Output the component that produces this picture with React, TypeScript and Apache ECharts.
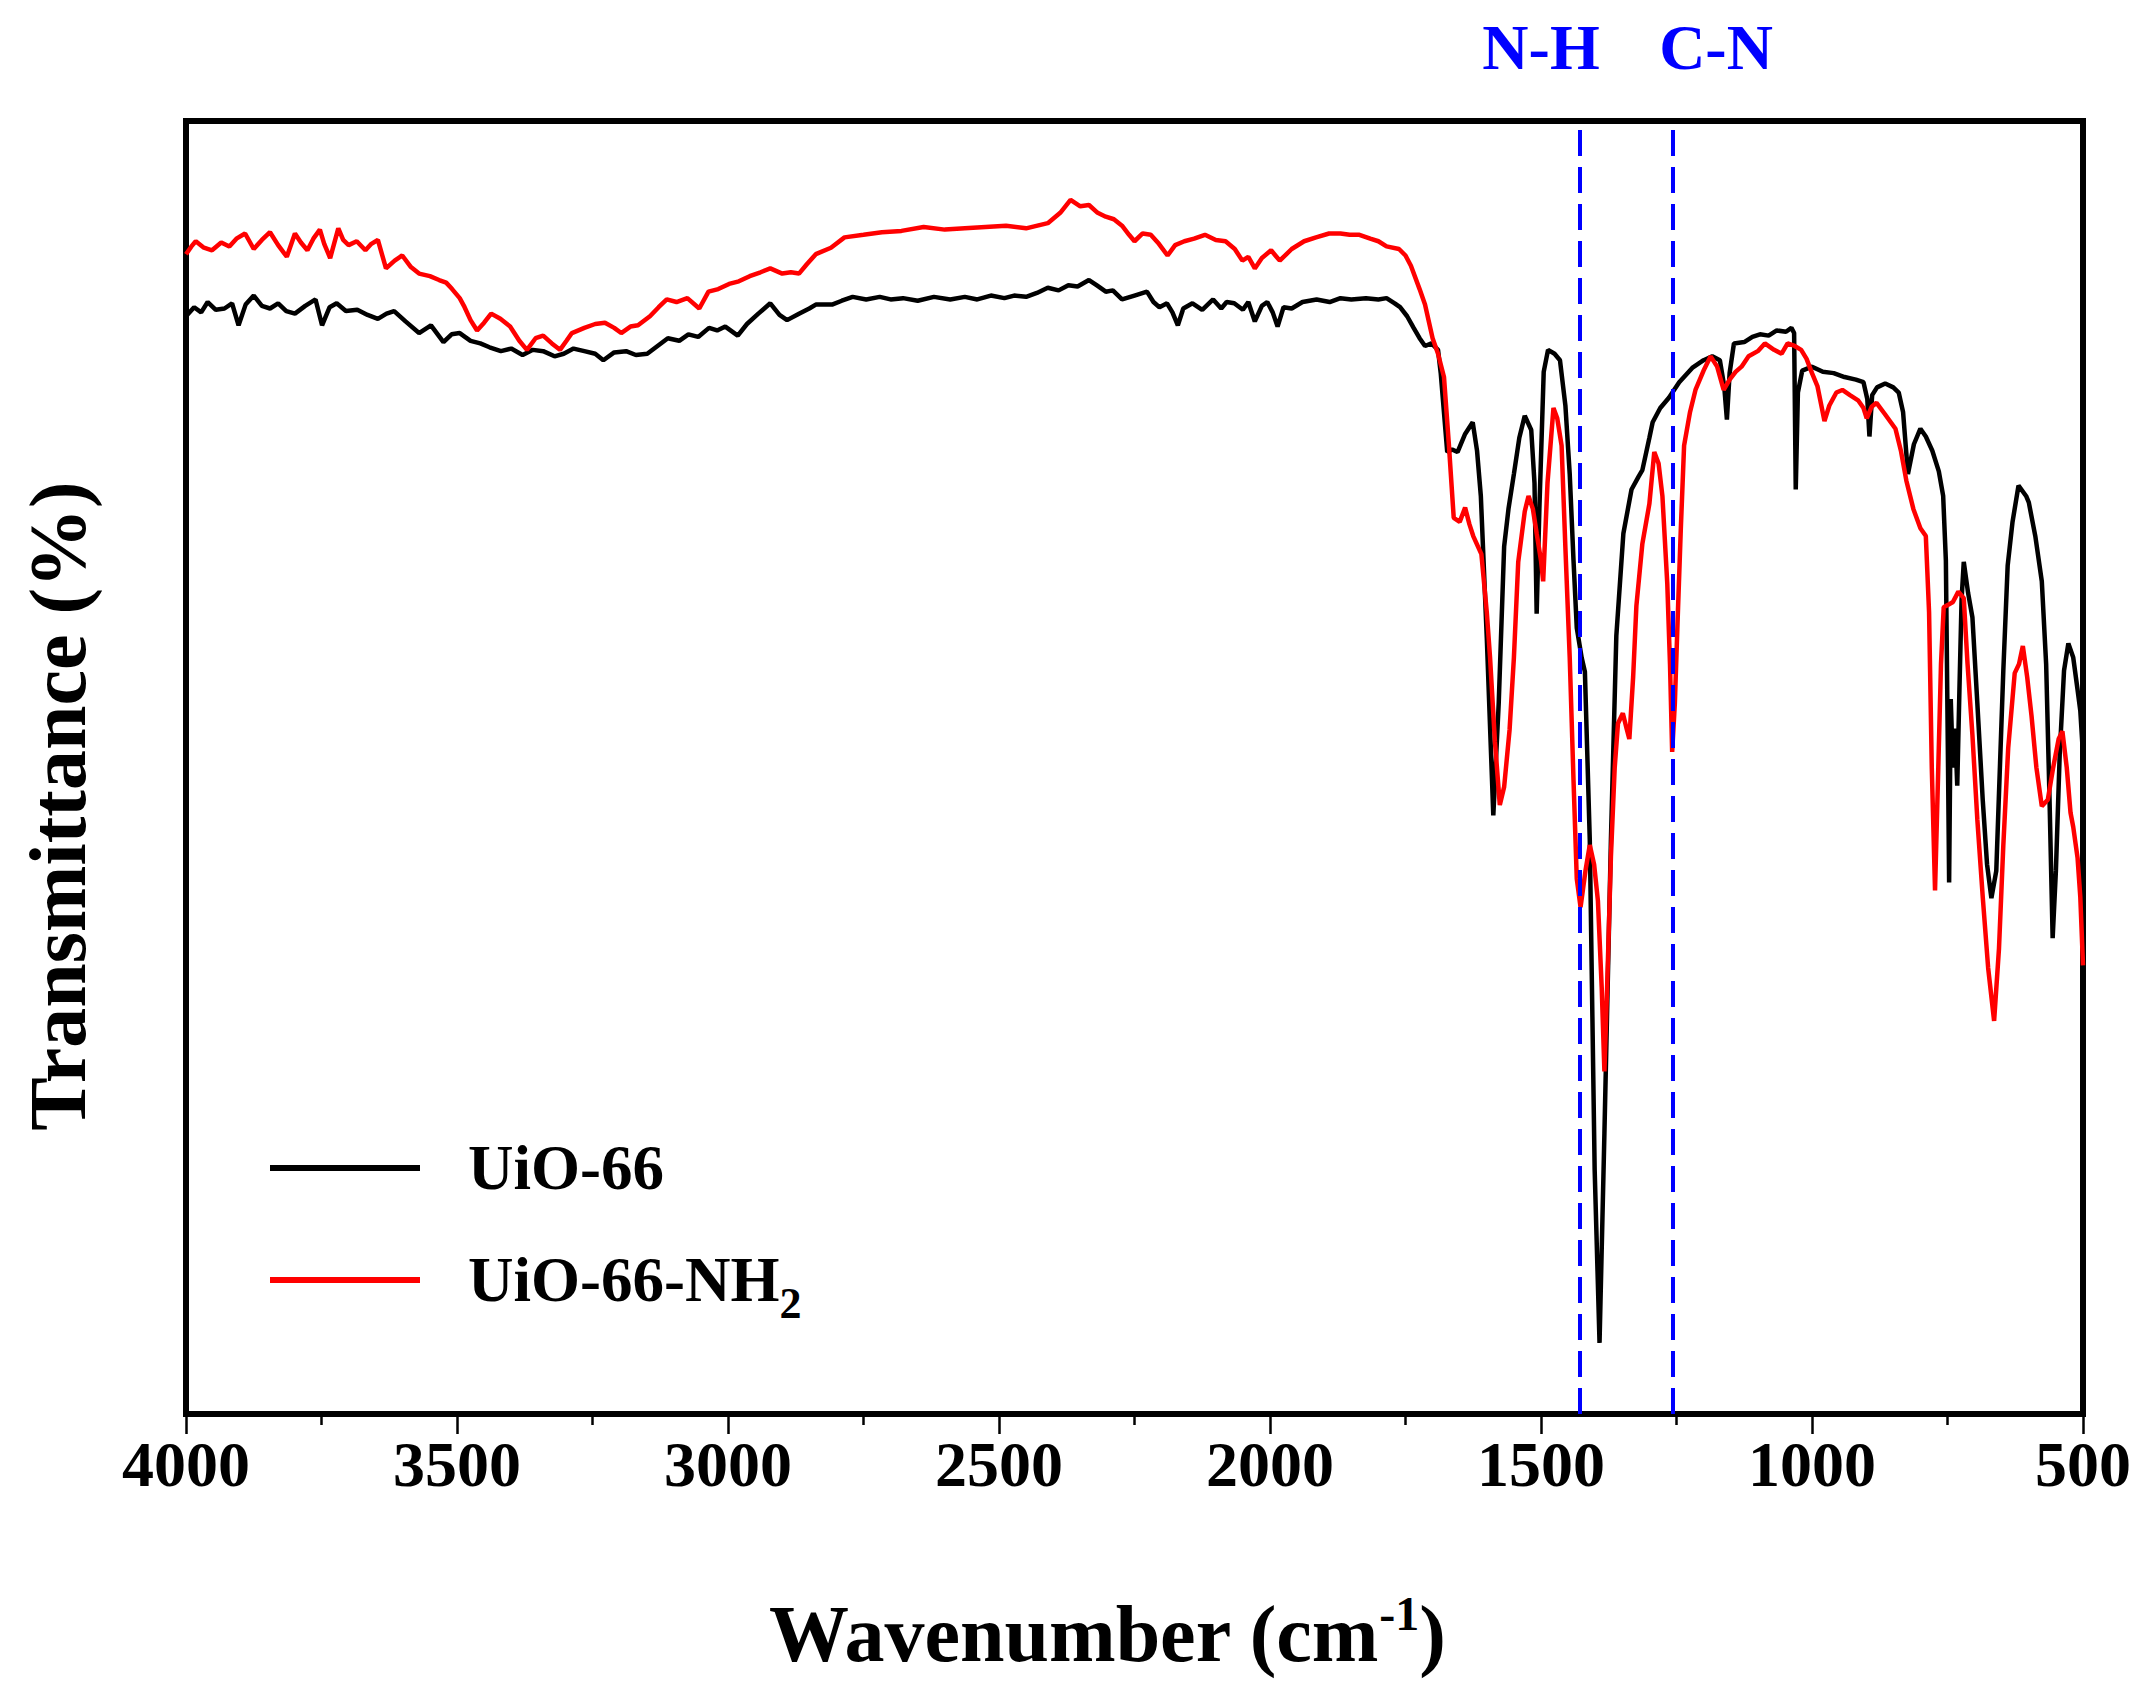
import React, { useEffect, useRef } from "react";
import * as echarts from "echarts";

// Wavenumber (cm-1) vs transmittance (arbitrary %, 0 = bottom of frame, 100 = top)
const uio66: [number, number][] = [
  [4000,84.9],[3985,85.6],[3972,85.2],[3960,86.0],[3945,85.4],[3929,85.5],[3915,85.9],[3903,84.2],[3890,85.8],[3875,86.5],
  [3860,85.7],[3845,85.5],[3830,85.9],[3815,85.3],[3799,85.1],[3780,85.7],[3761,86.2],[3749,84.2],[3735,85.6],[3722,85.9],
  [3705,85.3],[3684,85.4],[3665,85.0],[3646,84.7],[3630,85.1],[3616,85.3],[3595,84.5],[3570,83.6],[3548,84.2],[3525,82.9],
  [3510,83.5],[3495,83.6],[3475,83.0],[3457,82.8],[3440,82.5],[3419,82.2],[3400,82.4],[3379,81.9],[3360,82.3],[3341,82.2],
  [3320,81.8],[3303,82.0],[3285,82.4],[3265,82.2],[3245,82.0],[3230,81.5],[3210,82.1],[3188,82.2],[3170,81.9],[3149,82.0],
  [3130,82.6],[3111,83.2],[3090,83.0],[3073,83.5],[3055,83.3],[3035,84.0],[3020,83.8],[3005,84.1],[2982,83.4],[2965,84.3],
  [2944,85.1],[2922,85.9],[2905,85.0],[2891,84.6],[2869,85.1],[2850,85.5],[2838,85.8],[2808,85.8],[2790,86.1],[2770,86.4],
  [2745,86.2],[2720,86.4],[2700,86.2],[2677,86.3],[2650,86.1],[2620,86.4],[2590,86.2],[2563,86.4],[2540,86.2],[2515,86.5],
  [2490,86.3],[2472,86.5],[2450,86.4],[2430,86.7],[2410,87.1],[2390,86.9],[2372,87.3],[2355,87.2],[2334,87.7],[2320,87.3],
  [2303,86.8],[2290,86.9],[2273,86.2],[2250,86.5],[2227,86.8],[2215,86.0],[2204,85.6],[2190,85.9],[2180,85.2],[2170,84.2],
  [2160,85.5],[2143,85.9],[2125,85.4],[2105,86.2],[2090,85.5],[2080,86.0],[2066,85.9],[2050,85.4],[2040,86.0],[2028,84.5],
  [2015,85.7],[2005,86.0],[1995,85.2],[1986,84.1],[1975,85.6],[1960,85.5],[1940,86.0],[1914,86.2],[1890,86.0],[1870,86.3],
  [1850,86.2],[1823,86.3],[1800,86.2],[1785,86.3],[1770,85.9],[1760,85.6],[1747,84.9],[1735,84.0],[1724,83.2],[1714,82.6],
  [1702,82.8],[1690,82.3],[1685,80.5],[1673,74.4],[1664,74.6],[1654,74.4],[1640,75.8],[1626,76.7],[1618,74.5],[1611,71.0],
  [1600,60.0],[1588,46.3],[1578,55.0],[1568,67.1],[1560,70.0],[1550,72.7],[1540,75.5],[1530,77.2],[1518,76.1],[1512,72.0],
  [1508,61.9],[1503,70.0],[1495,80.6],[1487,82.3],[1475,82.0],[1465,81.5],[1455,78.0],[1447,72.7],[1440,66.0],[1434,60.8],
  [1425,58.5],[1419,57.4],[1410,44.4],[1401,18.9],[1392,5.5],[1383,21.7],[1371,44.4],[1361,60.2],[1348,68.1],[1333,71.5],
  [1320,72.5],[1313,73.0],[1300,75.5],[1294,76.7],[1280,77.8],[1264,78.6],[1245,79.8],[1221,80.9],[1200,81.5],[1184,81.8],
  [1170,81.5],[1162,79.5],[1157,76.9],[1152,80.5],[1144,82.8],[1125,82.9],[1110,83.3],[1096,83.5],[1080,83.4],[1065,83.8],
  [1048,83.7],[1038,84.0],[1033,83.6],[1030,71.5],[1026,79.0],[1018,80.7],[1000,81.0],[980,80.6],[960,80.5],[940,80.2],
  [919,80.0],[905,79.8],[898,78.5],[894,75.6],[889,78.8],[880,79.4],[865,79.7],[850,79.4],[840,79.0],[832,77.5],
  [823,72.7],[812,75.0],[800,76.2],[790,75.6],[778,74.5],[766,72.9],[758,71.0],[753,66.0],[749,50.0],[747,41.1],
  [744,55.3],[740,50.0],[736,53.0],[732,48.6],[728,56.0],[724,63.0],[720,65.9],[712,63.5],[704,61.6],[695,55.0],
  [685,47.5],[677,42.5],[669,39.9],[660,42.0],[655,48.0],[647,57.5],[639,65.6],[630,69.0],[619,71.8],[605,71.0],
  [600,70.5],[588,67.9],[576,64.4],[568,58.0],[562,48.0],[556,36.8],[550,42.0],[543,51.0],[535,57.5],[527,59.6],
  [518,58.5],[510,56.0],[505,54.4],[500,51.0]
];

const uio66NH2: [number, number][] = [
  [4000,89.7],[3990,90.3],[3982,90.7],[3967,90.2],[3952,90.0],[3935,90.6],[3920,90.3],[3907,90.9],[3891,91.3],[3875,90.1],
  [3860,90.8],[3845,91.4],[3830,90.4],[3814,89.5],[3799,91.3],[3788,90.6],[3776,90.0],[3765,90.9],[3753,91.6],[3745,90.5],
  [3734,89.4],[3719,91.7],[3710,90.8],[3700,90.4],[3685,90.7],[3669,90.0],[3658,90.5],[3646,90.8],[3631,88.6],[3615,89.2],
  [3601,89.6],[3585,88.7],[3570,88.2],[3550,88.0],[3533,87.7],[3520,87.5],[3509,87.0],[3495,86.3],[3486,85.6],[3475,84.6],
  [3463,83.8],[3450,84.4],[3437,85.1],[3420,84.7],[3402,84.1],[3385,83.0],[3371,82.3],[3355,83.2],[3341,83.4],[3325,82.8],
  [3310,82.3],[3298,83.0],[3288,83.6],[3265,84.0],[3245,84.3],[3227,84.4],[3210,84.0],[3197,83.6],[3180,84.1],[3166,84.2],
  [3144,84.9],[3128,85.6],[3113,86.2],[3095,86.0],[3075,86.3],[3053,85.5],[3036,86.8],[3018,87.0],[2998,87.4],[2980,87.6],
  [2960,88.0],[2940,88.3],[2922,88.6],[2900,88.2],[2884,88.3],[2869,88.2],[2855,88.9],[2838,89.7],[2810,90.2],[2785,91.0],
  [2750,91.2],[2716,91.4],[2680,91.5],[2639,91.8],[2600,91.6],[2563,91.7],[2525,91.8],[2487,91.9],[2450,91.7],[2410,92.1],
  [2387,92.9],[2368,93.9],[2350,93.4],[2334,93.5],[2318,92.9],[2303,92.6],[2288,92.4],[2273,91.9],[2260,91.2],[2250,90.7],
  [2235,91.3],[2220,91.2],[2205,90.5],[2189,89.6],[2175,90.4],[2158,90.7],[2140,90.9],[2120,91.2],[2100,90.8],[2082,90.7],
  [2065,90.1],[2051,89.2],[2040,89.5],[2028,88.6],[2015,89.4],[1998,90.0],[1990,89.6],[1982,89.2],[1960,90.1],[1937,90.7],
  [1915,91.0],[1891,91.3],[1870,91.3],[1853,91.2],[1835,91.2],[1815,90.9],[1800,90.7],[1785,90.3],[1762,90.1],[1750,89.6],
  [1740,88.8],[1724,87.0],[1714,85.8],[1700,83.2],[1690,82.0],[1679,80.2],[1670,75.0],[1661,69.3],[1650,69.0],[1640,70.1],
  [1632,68.8],[1625,67.9],[1610,66.5],[1600,62.0],[1594,58.5],[1585,52.0],[1576,47.1],[1568,48.5],[1558,52.9],[1550,58.5],
  [1542,65.9],[1530,69.8],[1523,71.0],[1515,70.0],[1508,68.1],[1500,66.0],[1496,64.4],[1488,72.0],[1477,77.8],[1470,77.0],
  [1462,74.9],[1455,67.0],[1447,58.5],[1440,49.0],[1434,41.4],[1427,39.2],[1418,42.0],[1410,44.0],[1402,42.5],[1395,39.7],
  [1388,33.0],[1383,26.5],[1378,33.0],[1371,43.1],[1364,50.0],[1358,53.4],[1349,54.2],[1342,53.0],[1337,52.2],[1330,57.0],
  [1324,62.5],[1313,67.3],[1300,70.4],[1291,74.4],[1283,73.5],[1276,71.0],[1267,64.2],[1262,58.0],[1258,51.2],[1253,55.0],
  [1248,61.3],[1242,68.5],[1236,74.9],[1225,77.5],[1215,79.2],[1200,80.7],[1187,81.8],[1175,81.0],[1163,79.2],[1152,80.0],
  [1141,80.6],[1130,81.0],[1117,81.8],[1100,82.2],[1087,82.8],[1070,82.3],[1056,82.0],[1045,82.8],[1032,82.6],[1020,82.3],
  [1010,81.6],[1000,80.5],[990,79.5],[977,76.8],[968,78.0],[955,79.0],[944,79.2],[930,78.8],[915,78.4],[905,77.8],
  [899,77.0],[890,77.9],[881,78.2],[865,77.3],[846,76.2],[836,74.5],[826,72.2],[813,70.0],[800,68.5],[790,67.9],
  [784,62.0],[779,50.0],[773,40.5],[767,50.0],[762,58.0],[757,62.4],[748,62.6],[740,62.8],[730,63.6],[720,63.1],
  [713,58.0],[704,52.5],[695,46.0],[685,40.0],[675,34.5],[664,30.4],[655,36.0],[647,44.0],[638,51.5],[626,57.3],
  [618,58.0],[611,59.4],[603,57.0],[595,54.0],[586,50.0],[576,47.0],[565,47.5],[555,50.0],[545,52.2],[538,52.8],
  [530,50.0],[523,46.5],[518,45.4],[510,43.0],[505,40.0],[500,34.7]
];

const seriesNames = ["UiO-66", "UiO-66-NH2"];
const bandPositions = [1428, 1257]; // cm-1, dashed guide lines
const bandLabels = ["N-H", "C-N"];
const xTickMin = 500;
const xTickMax = 4000;
const xTickInterval = 500;

const FONT = "Liberation Serif";

export default function App() {
  const ref = useRef<HTMLDivElement>(null);

  useEffect(() => {
    document.body.style.margin = "0";
    if (!ref.current) return;
    const chart = echarts.init(ref.current, undefined, { renderer: "svg" });

    const option: any = {
      animation: false,
      backgroundColor: "#ffffff",
      grid: {
        left: 186,
        top: 121,
        width: 1897,
        height: 1293,
        show: true,
        borderColor: "#000",
        borderWidth: 6,
        backgroundColor: "transparent",
      },
      xAxis: {
        type: "value",
        min: xTickMin,
        max: xTickMax,
        interval: xTickInterval,
        inverse: true,
        axisLine: { show: false },
        axisTick: { show: true, inside: false, length: 20, lineStyle: { color: "#000", width: 2.5 } },
        minorTick: { show: true, splitNumber: 2, length: 11, lineStyle: { color: "#000", width: 2.5 } },
        splitLine: { show: false },
        minorSplitLine: { show: false },
        axisLabel: {
          fontFamily: FONT,
          fontWeight: "bold",
          fontSize: 64,
          color: "#000",
          margin: 18,
          formatter: (v: number) => String(v),
        },
      },
      yAxis: {
        type: "value",
        min: 0,
        max: 100,
        axisLine: { show: false },
        axisTick: { show: false },
        axisLabel: { show: false },
        splitLine: { show: false },
      },
      series: [
        {
          name: seriesNames[0],
          type: "line",
          data: uio66,
          showSymbol: false,
          symbol: "none",
          lineStyle: { color: "#000000", width: 4.5 },
          z: 2,
        },
        {
          name: seriesNames[1],
          type: "line",
          data: uio66NH2,
          showSymbol: false,
          symbol: "none",
          lineStyle: { color: "#ff0000", width: 4.5 },
          z: 3,
        },
        {
          name: "bands",
          type: "line",
          data: [],
          z: 4,
          markLine: {
            silent: true,
            symbol: ["none", "none"],
            label: { show: false },
            lineStyle: { color: "#0000ff", width: 4, type: [26, 11] },
            data: bandPositions.map((v) => ({ xAxis: v })),
          },
        },
      ],
      graphic: [
        {
          type: "text",
          x: 1541,
          y: 47,
          style: { text: bandLabels[0], fontFamily: FONT, fontWeight: "bold", fontSize: 64, fill: "#0000ff", align: "center", verticalAlign: "middle" },
        },
        {
          type: "text",
          x: 1716,
          y: 47,
          style: { text: bandLabels[1], fontFamily: FONT, fontWeight: "bold", fontSize: 64, fill: "#0000ff", align: "center", verticalAlign: "middle" },
        },
        {
          type: "text",
          x: 58,
          y: 806,
          rotation: Math.PI / 2,
          style: { text: "Transmittance (%)", fontFamily: FONT, fontWeight: "bold", fontSize: 80, fill: "#000", align: "center", verticalAlign: "middle" },
        },
        {
          type: "text",
          x: 1107,
          y: 1634,
          style: {
            text: "Wavenumber (cm{sup|-1})",
            fontFamily: FONT,
            fontWeight: "bold",
            fontSize: 80,
            lineHeight: 90,
            fill: "#000",
            align: "center",
            verticalAlign: "middle",
            rich: {
              sup: { fontFamily: FONT, fontWeight: "bold", fontSize: 48, lineHeight: 48, verticalAlign: "top", fill: "#000" },
            },
          },
        },
        {
          type: "line",
          shape: { x1: 270, y1: 1168, x2: 420, y2: 1168 },
          style: { stroke: "#000000", lineWidth: 6 },
        },
        {
          type: "text",
          x: 468,
          y: 1168,
          style: { text: seriesNames[0], fontFamily: FONT, fontWeight: "bold", fontSize: 63, fill: "#000", align: "left", verticalAlign: "middle" },
        },
        {
          type: "line",
          shape: { x1: 270, y1: 1280, x2: 420, y2: 1280 },
          style: { stroke: "#ff0000", lineWidth: 6 },
        },
        {
          type: "text",
          x: 468,
          y: 1280,
          style: {
            text: "UiO-66-NH{sub|2}",
            fontFamily: FONT,
            fontWeight: "bold",
            fontSize: 63,
            lineHeight: 90,
            fill: "#000",
            align: "left",
            verticalAlign: "middle",
            rich: {
              sub: { fontFamily: FONT, fontWeight: "bold", fontSize: 44, lineHeight: 44, verticalAlign: "bottom", fill: "#000" },
            },
          },
        },
      ],
    };

    chart.setOption(option);
    return () => chart.dispose();
  }, []);

  return (
    <div
      ref={ref}
      style={{ position: "fixed", left: 0, top: 0, width: 2145, height: 1703, background: "#fff" }}
    />
  );
}
